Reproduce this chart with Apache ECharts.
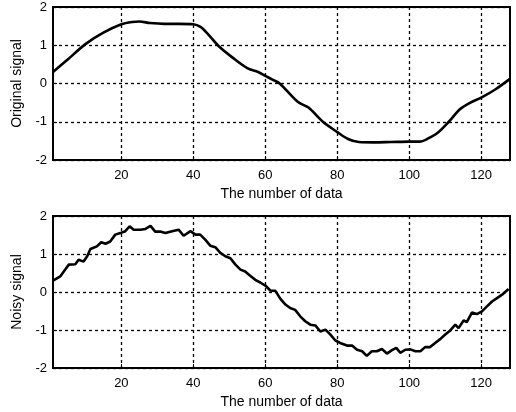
<!DOCTYPE html>
<html>
<head>
<meta charset="utf-8">
<script src="https://cdn.jsdelivr.net/npm/echarts@6/dist/echarts.min.js"></script>
<style>
    html, body { margin: 0; padding: 0; background: #fff; }
    #chart { width: 516px; height: 412px; }
</style>
</head>
<body>
<div id="chart"></div>
<script>
// sample index / amplitude
const origX = [1, 5, 10, 15, 20, 23, 25, 28, 32, 36, 40, 42, 44, 47, 51, 55, 58, 60, 62, 64,
    69, 72, 76, 80, 83, 86, 90, 95, 100, 103, 105, 108, 111, 114, 117, 120, 124, 128];
const origY = [0.30, 0.62, 1.03, 1.33, 1.55, 1.61, 1.62, 1.58, 1.56, 1.56, 1.55, 1.48, 1.30, 0.98, 0.67, 0.40, 0.30, 0.20, 0.10, 0.0,
    -0.48, -0.63, -1.0, -1.27, -1.45, -1.53, -1.54, -1.53, -1.52, -1.52, -1.45, -1.28, -1.0, -0.68, -0.5, -0.37, -0.15, 0.12];

const noisyX = [1, 3, 4.4, 5.4, 7.2, 8.1, 9.5, 10.5, 11.4, 13.2, 14.4, 15.6, 16.9, 18.3, 19.7, 21.1, 22.3, 23.4, 25.3, 26.7,
    28.1, 29.4, 30.8, 32.2, 34.1, 35.9, 37.3, 39.2, 40.6, 41.9, 43.3, 44.7, 46.1, 47.5, 48.9, 50.3, 51.7, 53.1, 54.4, 55.8,
    57.2, 58.6, 60, 61.4, 62.8, 64.2, 65.6, 66.9, 68.3, 69.7, 71.1, 72.5, 73.9, 75.3, 76.7, 78.1, 79.4, 80.8, 82.7, 84.1,
    85.5, 86.9, 88.2, 89.6, 91, 92.4, 93.8, 95.2, 96.4, 97.5, 98.9, 100.3, 101.7, 103.1, 104.4, 105.8, 107.2, 108.6, 110, 111.4,
    112.8, 113.7, 115.1, 116, 117.4, 118.8, 120.2, 121.6, 123, 124.4, 125.8, 127.6];
const noisyY = [0.30, 0.41, 0.59, 0.72, 0.73, 0.85, 0.80, 0.94, 1.13, 1.20, 1.31, 1.27, 1.33, 1.51, 1.55, 1.60, 1.73, 1.64, 1.64, 1.66,
    1.74, 1.59, 1.59, 1.55, 1.60, 1.64, 1.48, 1.60, 1.51, 1.51, 1.38, 1.22, 1.18, 1.03, 0.94, 0.89, 0.72, 0.59, 0.54, 0.43,
    0.32, 0.25, 0.17, 0.04, 0.03, -0.18, -0.33, -0.42, -0.47, -0.64, -0.77, -0.86, -0.88, -1.04, -0.99, -1.12, -1.27, -1.34, -1.41, -1.41,
    -1.52, -1.56, -1.68, -1.56, -1.56, -1.50, -1.62, -1.53, -1.47, -1.60, -1.52, -1.51, -1.56, -1.56, -1.45, -1.45, -1.34, -1.24, -1.12, -1.01,
    -0.86, -0.95, -0.75, -0.79, -0.54, -0.58, -0.51, -0.38, -0.25, -0.16, -0.07, 0.08];

const xTicks = [20, 40, 60, 80, 100, 120];
const yTicks = [-2, -1, 0, 1, 2];
const xTitle = "The number of data";
const yTitles = ["Original signal", "Noisy signal"];

const font = "Liberation Sans, Arial, sans-serif";
const dotted = { show: true, lineStyle: { color: "#000", type: [3, 3], width: 1.3 } };

function makeX(idx) {
    return {
        type: "value",
        gridIndex: idx,
        min: 1,
        max: 128,
        name: xTitle,
        nameLocation: "middle",
        nameGap: 27,
        nameTextStyle: { color: "#000", fontSize: 14, fontFamily: font },
        axisLine: { show: true, onZero: false, lineStyle: { color: "#000", width: 2 } },
        axisTick: { show: true, inside: true, length: 4, customValues: xTicks, lineStyle: { color: "#000" } },
        axisLabel: { customValues: xTicks, color: "#000", fontSize: 13, fontFamily: font, margin: 9 },
        splitLine: dotted
    };
}

function makeY(idx) {
    return {
        type: "value",
        gridIndex: idx,
        min: -2,
        max: 2,
        interval: 1,
        name: yTitles[idx],
        nameLocation: "middle",
        nameGap: 27,
        nameRotate: 90,
        nameTextStyle: { color: "#000", fontSize: 14, fontFamily: font },
        axisLine: { show: true, onZero: false, lineStyle: { color: "#000", width: 2 } },
        axisTick: { show: true, inside: true, length: 4, lineStyle: { color: "#000" } },
        axisLabel: { color: "#000", fontSize: 13, fontFamily: font, margin: 6,
            formatter: v => yTicks.indexOf(v) >= 0 ? String(v) : "" },
        splitLine: dotted
    };
}

const lineStyle = { color: "#000", width: 2.6 };

let myChart = echarts.init(document.getElementById("chart"), null, { renderer: "canvas" });
let option = {
    animation: false,
    backgroundColor: "#fff",
    grid: [
        { left: 53, top: 7, width: 457, height: 153, show: true, borderColor: "#000", borderWidth: 2 },
        { left: 53, top: 216, width: 457, height: 152, show: true, borderColor: "#000", borderWidth: 2 }
    ],
    xAxis: [makeX(0), makeX(1)],
    yAxis: [makeY(0), makeY(1)],
    series: [
        {
            type: "line",
            xAxisIndex: 0,
            yAxisIndex: 0,
            showSymbol: false,
            smooth: 0.3,
            lineStyle: lineStyle,
            data: origX.map((x, i) => [x, origY[i]])
        },
        {
            type: "line",
            xAxisIndex: 1,
            yAxisIndex: 1,
            showSymbol: false,
            lineStyle: lineStyle,
            data: noisyX.map((x, i) => [x, noisyY[i]])
        }
    ]
};
myChart.setOption(option);
</script>
</body>
</html>
